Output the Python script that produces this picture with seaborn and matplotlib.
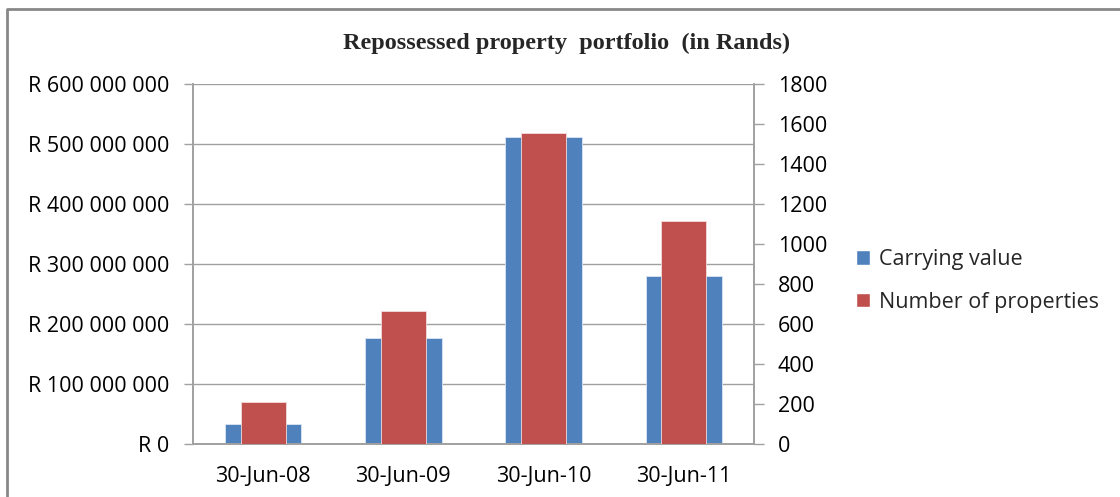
import seaborn as sns
import matplotlib.pyplot as plt
import pandas as pd
from matplotlib.patches import Patch
from matplotlib.lines import Line2D

# values
dates = ["30-Jun-08", "30-Jun-09", "30-Jun-10", "30-Jun-11"]
carrying_value = [33_000_000, 177_000_000, 511_000_000, 280_000_000]
num_properties = [208, 666, 1556, 1113]

left_ticks = [0, 100_000_000, 200_000_000, 300_000_000, 400_000_000, 500_000_000, 600_000_000]
right_ticks = [0, 200, 400, 600, 800, 1000, 1200, 1400, 1600, 1800]

blue = "#4f81bd"
red = "#c0504d"
grid_grey = "#a0a0a0"

df = pd.DataFrame({"date": dates, "value": carrying_value, "count": num_properties})

sns.set_style("white")
plt.rcParams["font.family"] = ["Open Sans", "DejaVu Sans"]

W, H = 1120, 497
px = 72 / 100  # pixels -> points at 100 dpi
fig = plt.figure(figsize=(11.2, 4.97), dpi=100)
ax = fig.add_axes([193 / W, 1 - 444 / H, 561 / W, 360 / H])

sns.barplot(data=df, x="date", y="value", color=blue, width=0.545,
            saturation=1, ax=ax, zorder=2, edgecolor="#dce6f2", linewidth=0.6)
ax.set_ylim(0, 600_000_000)
ax.set_yticks(left_ticks)
ax.set_yticklabels(["R 0" if v == 0 else "R " + f"{v:,}".replace(",", " ") for v in left_ticks])
ax.yaxis.grid(True, color=grid_grey, linewidth=1, zorder=0)
ax.set_axisbelow(True)
ax.set_xlabel("")
ax.set_ylabel("")

ax2 = ax.twinx()
sns.barplot(data=df, x="date", y="count", color=red, width=0.32,
            saturation=1, ax=ax2, zorder=3, edgecolor="#f2dcdb", linewidth=0.6)
ax2.set_ylim(0, 1800)
ax2.set_yticks(right_ticks)
ax2.set_ylabel("")
ax.set_xlim(-0.5, 3.5)
ax2.set_xlim(-0.5, 3.5)

for a in (ax, ax2):
    for s in a.spines.values():
        s.set_color(grid_grey)
        s.set_linewidth(1.2)
    a.spines["top"].set_visible(False)
    a.tick_params(labelsize=15.5, labelcolor="#000000", length=0)

ax.tick_params(axis="y", length=9 * px, color=grid_grey, direction="out", width=1, pad=15 * px)
ax2.tick_params(axis="y", length=10 * px, color=grid_grey, direction="out", width=1, pad=14 * px)

# category separator ticks on the x-axis
ax.set_xticks([-0.5, 0.5, 1.5, 2.5, 3.5], minor=True)
ax.tick_params(axis="x", which="minor", length=8 * px, color=grid_grey, width=1)
ax.tick_params(axis="x", which="major", length=0, pad=22 * px)

fig.text(567 / W, 1 - 43 / H, "Repossessed property  portfolio  (in Rands)",
         ha="center", va="center", fontsize=17.5, fontweight="bold",
         family="Liberation Serif")

handles = [Patch(facecolor=blue, label="Carrying value"),
           Patch(facecolor=red, label="Number of properties")]
fig.legend(handles=handles, loc="center left", bbox_to_anchor=(837 / W, 1 - 281 / H),
           frameon=False, fontsize=15.5, handlelength=0.65, handleheight=0.65,
           handletextpad=0.4, labelspacing=1.0)

# chart-area border (only left and top edges are in frame)
fig.add_artist(Line2D([7 / W, 7 / W, 1], [0, 1 - 9 / H, 1 - 9 / H],
                      transform=fig.transFigure, color="#888888", linewidth=2))

fig.savefig("out.png", dpi=100, facecolor="white")
